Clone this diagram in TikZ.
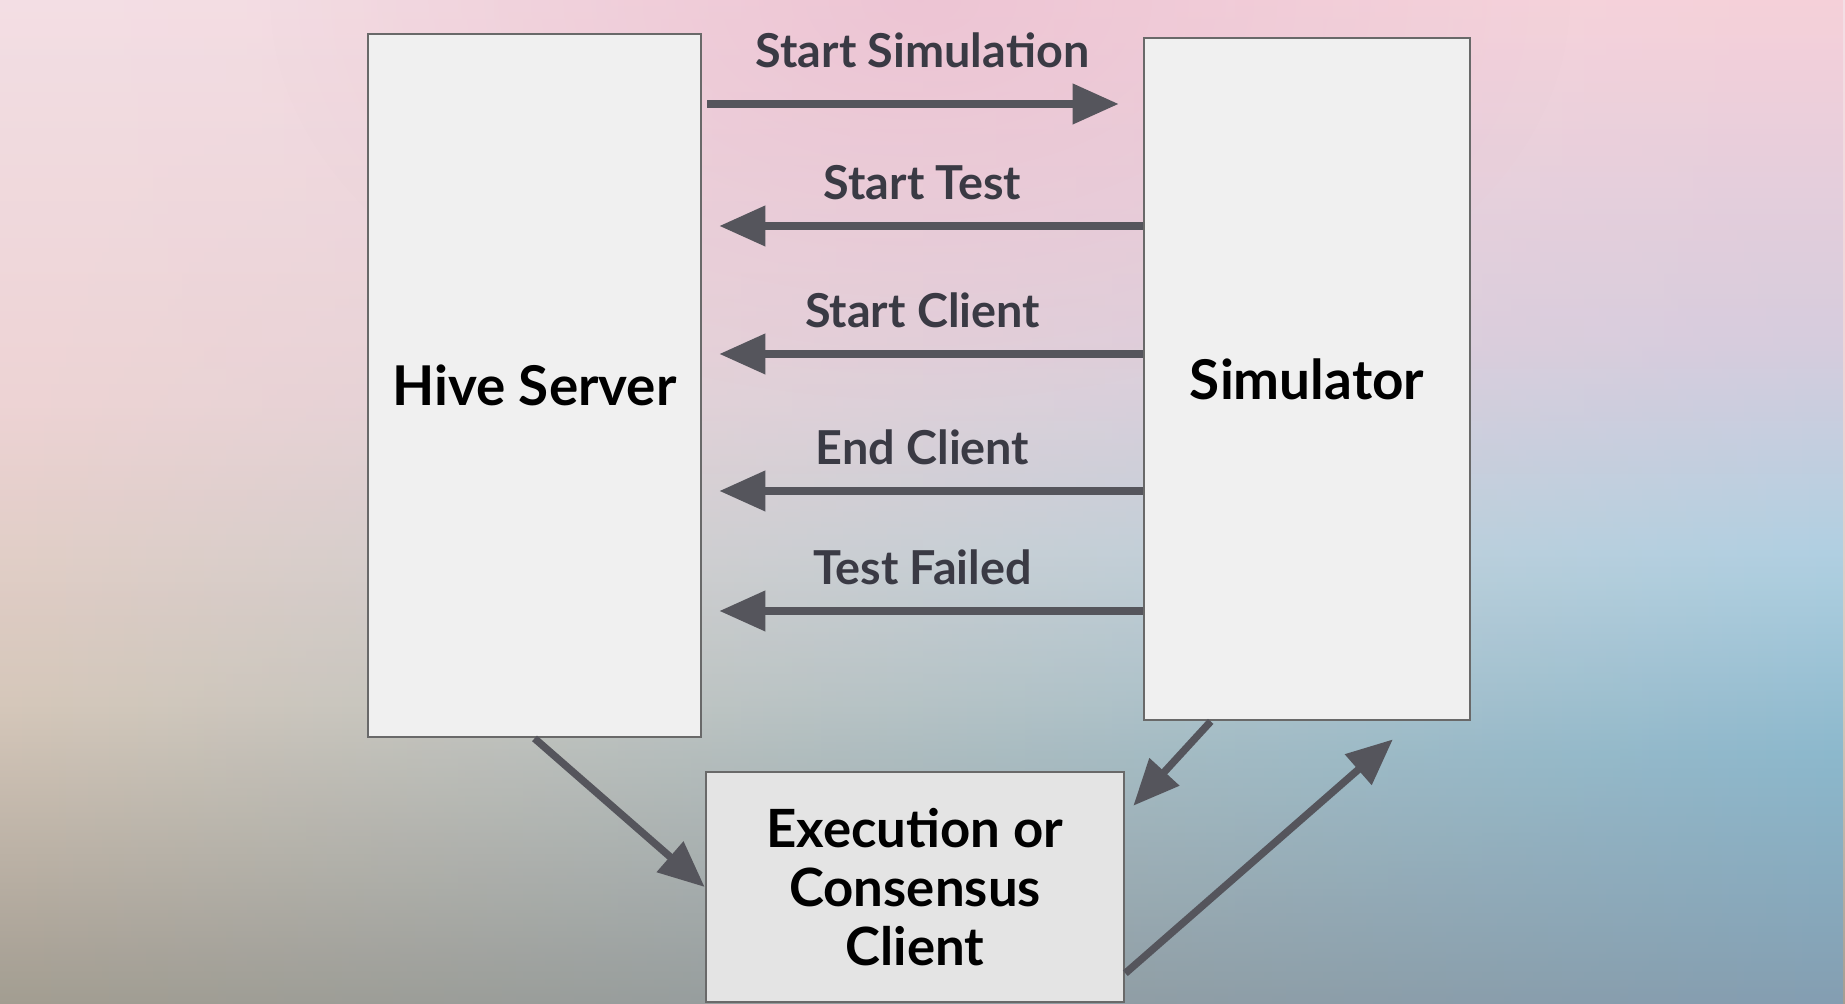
\documentclass[tikz,border=0pt]{standalone}
\usepackage{fontspec}
\setmainfont{Lato}
\usepackage{tikz}
\usetikzlibrary{arrows.meta, fadings, positioning}

\definecolor{arrowgray}{RGB}{85,85,92}
\definecolor{boxfill}{RGB}{240,240,240}
\definecolor{clientfill}{RGB}{228,228,228}
\definecolor{boxline}{RGB}{105,105,105}
\definecolor{labelgray}{RGB}{58,58,68}
\definecolor{bgpink}{RGB}{232,182,204}
% left half of the backdrop, bottom to top
\definecolor{bgLa}{RGB}{243,223,229}
\definecolor{bgLb}{RGB}{238,212,212}
\definecolor{bgLc}{RGB}{214,200,186}
\definecolor{bgLd}{RGB}{163,157,145}
% right half of the backdrop
\definecolor{bgRa}{RGB}{246,208,217}
\definecolor{bgRb}{RGB}{214,204,222}
\definecolor{bgRc}{RGB}{176,208,226}
\definecolor{bgRd}{RGB}{140,184,205}
\definecolor{bgRe}{RGB}{132,158,178}

\pgfdeclareverticalshading{leftbg}{100bp}{color(0bp)=(bgLd); color(25bp)=(bgLd); color(40bp)=(bgLc); color(55bp)=(bgLb); color(75bp)=(bgLa); color(100bp)=(bgLa)}
\pgfdeclareverticalshading{rightbg}{100bp}{color(0bp)=(bgRe); color(25bp)=(bgRe); color(37.5bp)=(bgRd); color(47.5bp)=(bgRc); color(58bp)=(bgRb); color(75bp)=(bgRa); color(100bp)=(bgRa)}
\tikzfading[name=fadetoright, left color=transparent!100, middle color=transparent!35, right color=transparent!0]
\tikzfading[name=topglow, inner color=transparent!45, outer color=transparent!100]

\tikzset{
  box/.style={draw=boxline, line width=0.7pt, fill=boxfill, inner sep=0pt},
  msg/.style={arrowgray, line width=2.1pt, -{Triangle[length=4.6mm, width=3.9mm]}},
  lbl/.style={labelgray, inner sep=0pt, font=\fontsize{13.3}{16}\selectfont\bfseries},
}

\begin{document}
\begin{tikzpicture}[x=0.01cm, y=0.01cm]
            \useasboundingbox (0,0) rectangle (1845,1004);
            % backdrop
            \shade[shading=leftbg] (0,0) rectangle (1845,1004);
            \shade[shading=rightbg, path fading=fadetoright] (0,0) rectangle (1845,1004);
            \fill[bgpink, path fading=topglow] (920,1004) ellipse (650 and 400);

            \node[box, minimum width=3.33cm, minimum height=7.03cm, font=\fontsize{15.6}{18}\selectfont\bfseries] (hive) at (534.5,618.5) {Hive Server};
            \node[box, minimum width=3.26cm, minimum height=6.82cm, font=\fontsize{15.6}{18}\selectfont\bfseries] (sim) at (1307,625) {Simulator};
            \node[box, fill=clientfill, minimum width=4.18cm, minimum height=2.30cm, align=center, font=\fontsize{15}{16.8}\selectfont\bfseries] (client) at (915,117) {Execution or\\Consensus\\Client};

            \draw[msg, shorten <=0.05cm, shorten >=0.24cm] (hive.east |- 0,900) -- (sim.west |- 0,900) node[lbl, midway, above=0.32cm] {Start Simulation};
            \draw[msg, shorten >=0.17cm] (sim.west |- 0,778) -- (hive.east |- 0,778) node[lbl, midway, above=0.22cm] {Start Test};
            \draw[msg, shorten >=0.17cm] (sim.west |- 0,650) -- (hive.east |- 0,650) node[lbl, midway, above=0.22cm] {Start Client};
            \draw[msg, shorten >=0.17cm] (sim.west |- 0,513) -- (hive.east |- 0,513) node[lbl, midway, above=0.22cm] {End Client};
            \draw[msg, shorten >=0.17cm] (sim.west |- 0,393) -- (hive.east |- 0,393) node[lbl, midway, above=0.22cm] {Test Failed};

            \draw[msg] (hive.south) -- (client.west);
            \draw[msg] ([xshift=0.68cm]sim.south west) -- ([xshift=0.08cm, yshift=-0.35cm]client.north east);
            \draw[msg] ([yshift=0.3cm]client.south east) -- ([xshift=2.5cm, yshift=-0.18cm]sim.south west);
        \end{tikzpicture}
\end{document}
